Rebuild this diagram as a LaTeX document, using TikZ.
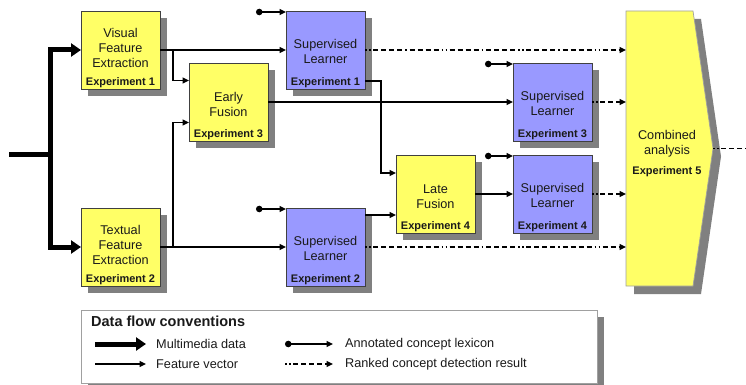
\documentclass[tikz,border=0pt]{standalone}
\usepackage{fontspec}
\setmainfont{Liberation Sans}
\usetikzlibrary{arrows.meta,shadows,calc}
\definecolor{boxyellow}{HTML}{FFFF66}
\definecolor{boxblue}{HTML}{9999FF}
\definecolor{shadowgray}{HTML}{808080}
\definecolor{edgegray}{HTML}{404040}
\definecolor{legendedge}{HTML}{A0A0A0}
\definecolor{txt}{HTML}{1A1A1A}
\tikzset{
 base/.style={draw=edgegray, line width=0.7pt, minimum width=79pt, minimum height=78pt,
   anchor=north west, inner sep=0pt, outer sep=0pt,
   drop shadow={shadow xshift=7pt, shadow yshift=-7pt, fill=shadowgray, opacity=1}},
 ybox/.style={base, fill=boxyellow},
 bbox/.style={base, fill=boxblue},
 maintext/.style={font=\fontsize{12.7}{14.8}\selectfont, align=center, inner sep=0pt, text=txt},
 exptext/.style={font=\bfseries\fontsize{11}{13}\selectfont, inner sep=0pt, text=txt},
 legtext/.style={font=\fontsize{12.7}{14.8}\selectfont, inner sep=0pt, anchor=west, text=txt},
 legtitle/.style={font=\bfseries\fontsize{14.5}{16}\selectfont, inner sep=0pt, anchor=west, text=txt},
 fv/.style={line width=1.3pt, -{Triangle[length=6.5pt,width=6pt]}},
 mm/.style={line width=5pt, -{Triangle[length=10pt,width=13pt]}},
 mmline/.style={line width=5pt},
 anno/.style={line width=1.3pt, {Circle[length=6.5pt]}-{Triangle[length=6.5pt,width=6pt]}},
 rankpat/.style={line width=1.4pt, dash pattern=on 1.5pt off 2.5pt on 1.5pt off 2.5pt on 5pt off 3pt on 5pt off 3pt on 5pt off 3pt on 5pt off 3pt on 1.5pt off 3pt on 5pt off 3pt on 5pt off 3pt on 5pt off 3pt on 5pt off 3pt},
 ranked/.style={rankpat, -{Triangle[length=6.5pt,width=6pt]}},
 rankedline/.style={rankpat},
}
\begin{document}
\begin{tikzpicture}[x=1pt,y=-1pt]
\useasboundingbox (0,0) rectangle (746,385);

% boxes
\node[ybox] (vfe) at (81,11) {};
\node[ybox] (tfe) at (81,208) {};
\node[ybox] (ef) at (189,63) {};
\node[ybox] (lf) at (396,155) {};
\node[bbox] (sl1) at (286,11) {};
\node[bbox] (sl2) at (286,208) {};
\node[bbox] (sl3) at (513,63) {};
\node[bbox] (sl4) at (513,155) {};

% combined analysis
\node[inner sep=0pt, outer sep=0pt, minimum width=67pt, minimum height=275pt, anchor=north west] (cmb) at (626,11) {};
\fill[shadowgray] ([shift={(8pt,-8pt)}]cmb.north west) -- ([shift={(8pt,-8pt)}]cmb.north east)
  -- ([shift={(28pt,-8pt)}]cmb.east) -- ([shift={(8pt,-8pt)}]cmb.south east) -- ([shift={(8pt,-8pt)}]cmb.south west) -- cycle;
\filldraw[fill=boxyellow, draw=legendedge, line width=0.7pt] (cmb.north west) -- (cmb.north east)
  -- ([xshift=20pt]cmb.east) -- (cmb.south east) -- (cmb.south west) -- cycle;
\coordinate (cmbtip) at ([xshift=20pt]cmb.east);

% texts
\node[maintext] (vfet) at ([yshift=2pt]vfe.center) {Visual\\Feature\\Extraction};
\node[exptext] (vfee) at ([yshift=6pt]vfe.south) {Experiment 1};
\node[maintext] (tfet) at ([yshift=2pt]tfe.center) {Textual\\Feature\\Extraction};
\node[exptext] (tfee) at ([yshift=6pt]tfe.south) {Experiment 2};
\node[maintext] (eft) at ([yshift=-2.5pt]ef.center) {Early\\Fusion};
\node[exptext] (efe) at ([yshift=6pt]ef.south) {Experiment 3};
\node[maintext] (lft) at ([yshift=-2.5pt]lf.center) {Late\\Fusion};
\node[exptext] (lfe) at ([yshift=6pt]lf.south) {Experiment 4};
\node[maintext] (sl1t) at ([yshift=-1.5pt]sl1.center) {Supervised\\Learner};
\node[exptext] (sl1e) at ([yshift=6pt]sl1.south) {Experiment 1};
\node[maintext] (sl2t) at ([yshift=-1.5pt]sl2.center) {Supervised\\Learner};
\node[exptext] (sl2e) at ([yshift=6pt]sl2.south) {Experiment 2};
\node[maintext] (sl3t) at ([yshift=-1.5pt]sl3.center) {Supervised\\Learner};
\node[exptext] (sl3e) at ([yshift=6pt]sl3.south) {Experiment 3};
\node[maintext] (sl4t) at ([yshift=-1.5pt]sl4.center) {Supervised\\Learner};
\node[exptext] (sl4e) at ([yshift=6pt]sl4.south) {Experiment 4};
\node[maintext] (cmbt) at (667,143.5) {Combined\\analysis};
\node[exptext] (cmbe) at (667,172) {Experiment 5};

% multimedia data
\coordinate (mmin) at (9,154);
\coordinate (mmsplit) at (50,154);
\draw[mmline] (mmin) -- ([xshift=2.5pt]mmsplit);
\draw[mm] (mmsplit) |- (vfe.west);
\draw[mm] (mmsplit) |- (tfe.west);

% feature vectors
\draw[fv] (vfe.east) -- (sl1.west);
\draw[fv] (tfe.east) -- (sl2.west);
\coordinate (b1) at (173,50);
\coordinate (b2) at (173,247);
\draw[fv] (b1) |- ([yshift=21.5pt]ef.west);
\draw[fv] (b2) |- ([yshift=-20.5pt]ef.west);
\draw[fv] (ef.east) -- (sl3.west);
\draw[fv] ([yshift=-31pt]sl1.east) -- ++(16,0) |- ([yshift=21pt]lf.west);
\draw[fv] ([yshift=32pt]sl2.east) -- ([yshift=32pt]sl2.east -| lf.west);
\draw[fv] (lf.east) -- (sl4.west);

% annotated concept lexicon
\coordinate (a1) at (256,12);
\coordinate (a2) at (256,209);
\coordinate (a3) at (485,64);
\coordinate (a4) at (485,156);
\draw[anno] (a1) -- (a1 -| sl1.west);
\draw[anno] (a2) -- (a2 -| sl2.west);
\draw[anno] (a3) -- (a3 -| sl3.west);
\draw[anno] (a4) -- (a4 -| sl4.west);

% ranked results
\draw[ranked] (sl1.east) -- (sl1.east -| cmb.west);
\draw[ranked] (sl2.east) -- (sl2.east -| cmb.west);
\draw[ranked] (sl3.east) -- (sl3.east -| cmb.west);
\draw[ranked] (sl4.east) -- (sl4.east -| cmb.west);
\coordinate (out) at (746,148.5);
\draw[rankedline] (cmbtip) -- (out);

% legend
\node[draw=legendedge, fill=white, line width=0.8pt, minimum width=516pt, minimum height=73pt,
  anchor=north west, inner sep=0pt,
  drop shadow={shadow xshift=7pt, shadow yshift=-7pt, fill=shadowgray, opacity=1}] (leg) at (81,310) {};
\node[legtitle] (legt) at (91,321) {Data flow conventions};
\coordinate (l1a) at (95,344);
\coordinate (l1b) at (146,344);
\coordinate (l2a) at (95,364);
\coordinate (l2b) at (146,364);
\coordinate (l3a) at (285,344);
\coordinate (l3b) at (333,344);
\coordinate (l4a) at (285,364);
\coordinate (l4b) at (333,364);
\draw[mm] (l1a) -- (l1b);
\draw[fv] (l2a) -- (l2b);
\draw[anno] (l3a) -- (l3b);
\draw[ranked] (l4a) -- (l4b);
\node[legtext] (lt1) at (156,344) {Multimedia data};
\node[legtext] (lt2) at (156,364) {Feature vector};
\node[legtext] (lt3) at (345,344) {Annotated concept lexicon};
\node[legtext] (lt4) at (345,364) {Ranked concept detection result};
\end{tikzpicture}
\end{document}
